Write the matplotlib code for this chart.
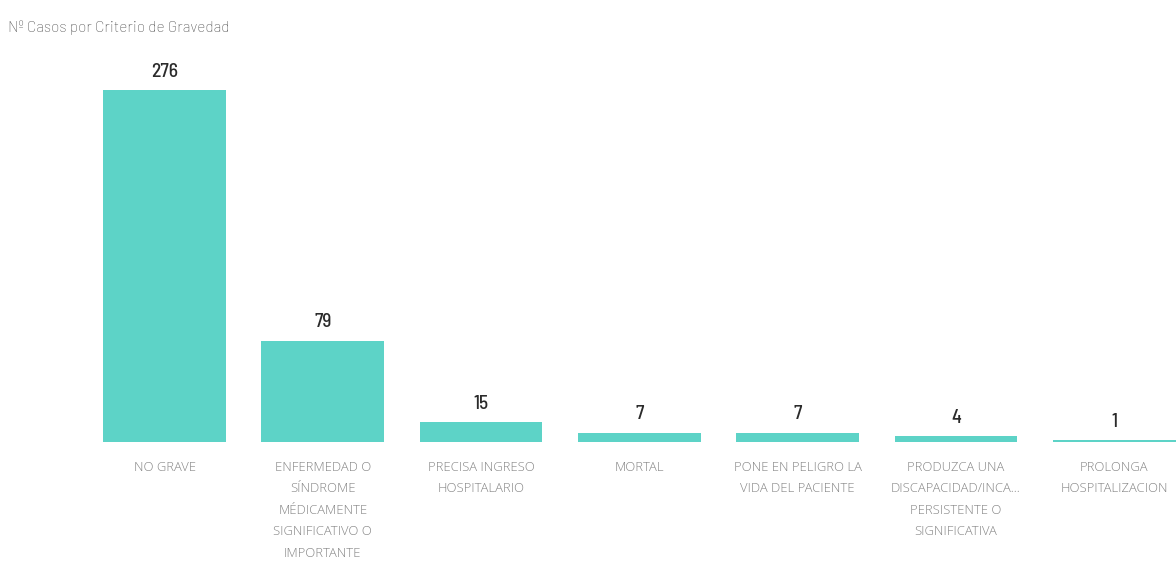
import matplotlib
matplotlib.use("Agg")
import matplotlib.pyplot as plt

categories = [
    "NO GRAVE",
    "ENFERMEDAD O\nSÍNDROME\nMÉDICAMENTE\nSIGNIFICATIVO O\nIMPORTANTE",
    "PRECISA INGRESO\nHOSPITALARIO",
    "MORTAL",
    "PONE EN PELIGRO LA\nVIDA DEL PACIENTE",
    "PRODUZCA UNA\nDISCAPACIDAD/INCA...\nPERSISTENTE O\nSIGNIFICATIVA",
    "PROLONGA\nHOSPITALIZACION",
]
values = [276, 79, 15, 7, 7, 4, 1]
title = "Nº Casos por Criterio de Gravedad"

VALFONT = ["Barlow Semi Condensed", "Barlow Condensed", "DejaVu Sans"]
TITLEFONT = ["Barlow", "Barlow Semi Condensed", "DejaVu Sans"]
CATFONT = ["Open Sans", "DejaVu Sans"]

W, H = 1176, 578
fig = plt.figure(figsize=(W / 100, H / 100), dpi=100)
fig.patch.set_facecolor("white")

left_px = 164.5 - 79.15
right_px = W
base_px = 441.5
top_px = base_px - 300 * 1.272
ax = fig.add_axes([left_px / W, (H - base_px) / H,
                   (right_px - left_px) / W, (base_px - top_px) / H])
xmax = -0.5 + (right_px - left_px) / 158.3
ax.set_xlim(-0.5, xmax)
ax.set_ylim(0, 300)

x = list(range(len(values)))
ax.bar(x, values, width=0.775, color="#5dd3c7")

for xi, v in zip(x, values):
    ax.annotate(str(v), (xi, v), xytext=(0, 7), textcoords="offset points",
                ha="center", va="bottom", fontsize=14, fontweight="medium",
                family=VALFONT, color="#2b2b2b")

ax.set_xticks(x)
ax.set_xticklabels(categories, fontsize=9.4, color="#848484",
                   family=CATFONT, fontweight="light", linespacing=1.85)
ax.tick_params(axis="x", length=0, pad=14)
ax.tick_params(axis="y", left=False, labelleft=False)
for s in ax.spines.values():
    s.set_visible(False)

fig.text(8 / W, 1 - 28 / H, title, fontsize=11.1, color="#505050",
         family=TITLEFONT, fontweight="light", va="center", ha="left")

fig.savefig("out.png", dpi=100, facecolor="white")
